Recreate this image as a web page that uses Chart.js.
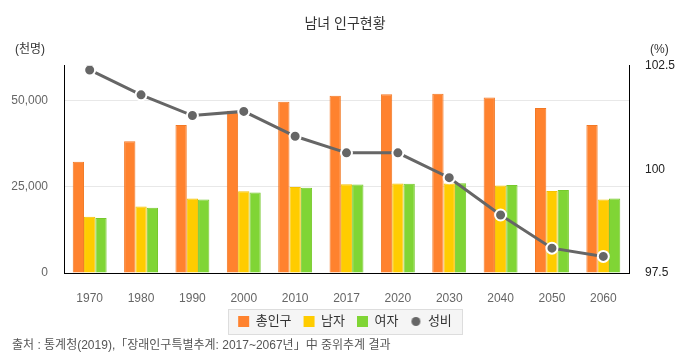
<!DOCTYPE html>
<html>
<head>
<meta charset="utf-8">
<script src="https://cdn.jsdelivr.net/npm/chart.js@4.4.1/dist/chart.umd.min.js"></script>
<style>
    html, body { margin: 0; padding: 0; background: #fff; }
    #wrap { width: 690px; height: 360px; position: relative; }
</style>
</head>
<body>
<div id="wrap"><canvas id="popChart"></canvas></div>
<script>
const years = ['1970', '1980', '1990', '2000', '2010', '2017', '2020', '2030', '2040', '2050', '2060'];
const totalPop = [32241, 38124, 42869, 47008, 49554, 51362, 51781, 51927, 50855, 47745, 42843];
const malePop = [16309, 19236, 21568, 23667, 24881, 25702, 25907, 25943, 25342, 23720, 21297];
const femalePop = [15932, 18888, 21301, 23341, 24673, 25660, 25874, 25984, 25513, 24025, 21546];
const sexRatio = [102.4, 101.8, 101.3, 101.4, 100.8, 100.4, 100.4, 99.8, 98.9, 98.1, 97.9];
const popTicks = [0, 25000, 50000];
const ratioTicks = [97.5, 100, 102.5];

const fontFamily = "'Liberation Sans', 'Noto Sans CJK KR', sans-serif";

// small circle used as the legend mark of the line
const dotCanvas = document.createElement('canvas');
dotCanvas.width = 11;
dotCanvas.height = 11;
const dctx = dotCanvas.getContext('2d');
dctx.beginPath();
dctx.arc(5.5, 5.5, 4.5, 0, Math.PI * 2);
dctx.fillStyle = '#666666';
dctx.fill();

const extraText = {
    id: 'extraText',
    beforeDraw(chart) {
        const ctx = chart.ctx;
        const boxes = chart.legend && chart.legend.legendHitBoxes;
        if (boxes && boxes.length) {
            let l = Infinity, r = -Infinity, t = Infinity, b = -Infinity;
            boxes.forEach(h => {
                l = Math.min(l, h.left); r = Math.max(r, h.left + h.width);
                t = Math.min(t, h.top); b = Math.max(b, h.top + h.height);
            });
            ctx.save();
            ctx.fillStyle = '#f5f5f5';
            ctx.strokeStyle = '#dddddd';
            ctx.lineWidth = 1;
            const x = Math.round(l - 10) + 0.5, y = Math.round(t - 6) + 0.5;
            const w = Math.round(r - l + 20), h = Math.round(b - t + 12);
            ctx.fillRect(x, y, w, h);
            ctx.strokeRect(x, y, w, h);
            ctx.restore();
        }
    },
    afterDraw(chart) {
        const ctx = chart.ctx;
        ctx.save();
        ctx.font = '12px ' + fontFamily;
        ctx.fillStyle = '#333333';
        ctx.textBaseline = 'middle';
        ctx.textAlign = 'left';
        ctx.fillText('(천명)', 15, 50);
        ctx.fillText('(%)', 650, 50);
        ctx.fillStyle = '#555555';
        ctx.fillText('출처 : 통계청(2019),「장래인구특별추계: 2017~2067년」中 중위추계 결과', 12, 346);
        ctx.restore();
    }
};

const ctx = document.getElementById('popChart').getContext('2d');
const popChart = new Chart(ctx, {
    type: 'bar',
    data: {
        labels: years,
        datasets: [{
            label: '총인구',
            data: totalPop,
            backgroundColor: '#ff822e',
            borderColor: '#f27824',
            borderWidth: 1,
            yAxisID: 'y',
            order: 1
        }, {
            label: '남자',
            data: malePop,
            backgroundColor: '#ffcc00',
            borderColor: '#f5c200',
            borderWidth: 1,
            yAxisID: 'y',
            order: 1
        }, {
            label: '여자',
            data: femalePop,
            backgroundColor: '#80d535',
            borderColor: '#76c82c',
            borderWidth: 1,
            yAxisID: 'y',
            order: 1
        }, {
            type: 'line',
            label: '성비',
            data: sexRatio,
            borderColor: '#666666',
            borderWidth: 3,
            pointRadius: 5.5,
            pointBackgroundColor: '#666666',
            pointBorderColor: '#ffffff',
            pointBorderWidth: 2,
            yAxisID: 'y1',
            order: 0
        }]
    },
    options: {
        responsive: true,
        maintainAspectRatio: false,
        animation: false,
        layout: { padding: { left: 0, right: 0, top: 0, bottom: 22 } },
        datasets: {
            bar: { categoryPercentage: 0.66, barPercentage: 1 }
        },
        scales: {
            x: {
                afterFit: (scale) => { scale.height = 30; },
                grid: { display: false, drawTicks: false },
                border: { color: '#000', width: 1 },
                ticks: { color: '#666', padding: 18, font: { size: 12, family: fontFamily } }
            },
            y: {
                position: 'left',
                min: 0,
                max: 60000,
                afterBuildTicks: (scale) => {
                    scale.ticks = popTicks.map(v => ({ value: v }));
                },
                afterFit: (scale) => { scale.width = 64; },
                grid: { color: '#e8e8e8', drawTicks: false },
                border: { color: '#000', width: 1 },
                ticks: {
                    color: '#666',
                    padding: 16,
                    font: { size: 12, family: fontFamily },
                    callback: (v) => v.toLocaleString('en-US')
                }
            },
            y1: {
                position: 'right',
                min: 97.5,
                max: 102.5,
                afterBuildTicks: (scale) => {
                    scale.ticks = ratioTicks.map(v => ({ value: v }));
                },
                afterFit: (scale) => { scale.width = 61; },
                grid: { display: false, drawTicks: false },
                border: { color: '#000', width: 1 },
                ticks: {
                    color: '#222',
                    padding: 16,
                    font: { size: 12, family: fontFamily }
                }
            }
        },
        plugins: {
            title: {
                display: true,
                text: '남녀 인구현황',
                color: '#333',
                font: { size: 14, weight: 'normal', family: fontFamily },
                padding: { top: 16, bottom: 33 }
            },
            legend: {
                position: 'bottom',
                labels: {
                    color: '#333',
                    font: { size: 13, family: fontFamily },
                    boxWidth: 11,
                    boxHeight: 11,
                    padding: 12,
                    usePointStyle: true,
                    sort: (a, b) => a.datasetIndex - b.datasetIndex,
                    generateLabels: (chart) => {
                        const items = Chart.defaults.plugins.legend.labels.generateLabels(chart);
                        items.forEach(item => {
                            const ds = chart.data.datasets[item.datasetIndex];
                            if (ds.type === 'line') {
                                item.pointStyle = dotCanvas;
                            } else {
                                item.pointStyle = 'rect';
                                item.lineWidth = 0;
                            }
                        });
                        return items;
                    }
                }
            },
            tooltip: { enabled: false }
        }
    },
    plugins: [extraText]
});
</script>
</body>
</html>
